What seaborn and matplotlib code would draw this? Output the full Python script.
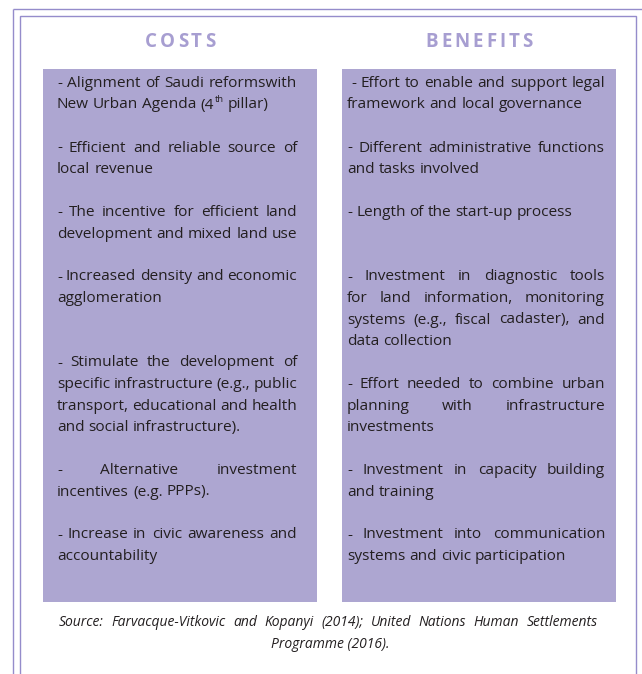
import matplotlib
matplotlib.use("Agg")
import matplotlib.pyplot as plt
import seaborn as sns
import pandas as pd

sns.set_theme(style="white")
plt.rcParams["font.family"] = ["Open Sans", "DejaVu Sans"]

# ---------------- data ----------------
column_titles = ["COSTS", "BENEFITS"]

costs = [
    ["- Alignment of Saudi reformswith", "New Urban Agenda (4^th pillar)"],
    ["- Efficient and reliable source of", "local revenue"],
    ["- The incentive for efficient land", "development and mixed land use"],
    ["- Increased density and economic", "agglomeration"],
    ["- Stimulate the development of", "specific infrastructure (e.g., public",
     "transport, educational and health", "and social infrastructure)."],
    ["- Alternative investment", "incentives (e.g. PPPs)."],
    ["- Increase in civic awareness and", "accountability"],
]

benefits = [
    [" - Effort to enable and support legal", "framework and local governance"],
    ["- Different administrative functions", "and tasks involved"],
    ["- Length of the start-up process"],
    ["- Investment in diagnostic tools", "for land information, monitoring",
     "systems (e.g., fiscal cadaster), and", "data collection"],
    ["- Effort needed to combine urban", "planning with infrastructure", "investments"],
    ["- Investment in capacity building", "and training"],
    ["- Investment into communication", "systems and civic participation"],
]

source_lines = [
    "Source: Farvacque-Vitkovic and Kopanyi (2014); United Nations Human Settlements",
    "Programme (2016).",
]

# ---------------- layout ----------------
costs_rows = [0, 3, 6, 9, 13, 18, 21]
benefits_rows = [0, 3, 6, 9, 14, 18, 21]

W, H, DPI = 642, 674, 100
BOX_L, BOX_R, BOX_T, BOX_B, GAP = 43, 616, 69, 602, 25
BOX_COLOR = "#ADA6D1"
TITLE_COLOR = "#A79ED1"
FRAME_COLOR = "#958CCB"
TEXT_COLOR = "#231F20"
BODY_SIZE = 11.1
TITLE_SIZE = 13.5
SRC_SIZE = 10.0
BASE0, PITCH = 87.0, 21.5

fig = plt.figure(figsize=(W / DPI, H / DPI), dpi=DPI)
fig.patch.set_facecolor("white")

# boxes drawn as seaborn bars
box_w = (BOX_R - BOX_L - GAP) / 2
unit = box_w + GAP
wfrac = box_w / unit
axb = fig.add_axes([BOX_L / W, 1 - BOX_B / H, (BOX_R - BOX_L) / W, (BOX_B - BOX_T) / H])
df = pd.DataFrame({"column": column_titles, "extent": [1.0, 1.0]})
sns.barplot(data=df, x="column", y="extent", color=BOX_COLOR, saturation=1,
            width=wfrac, errorbar=None, edgecolor="none", linewidth=0, ax=axb)
axb.set_xlim(-wfrac / 2, 1 + wfrac / 2)
axb.set_ylim(0, 1)
axb.axis("off")

# overlay in pixel coordinates
ax = fig.add_axes([0, 0, 1, 1])
ax.set_xlim(0, W)
ax.set_ylim(H, 0)
ax.axis("off")
ax.patch.set_alpha(0)

lw = 1.4 * 72 / DPI
# outer frame
ax.plot([13, 13], [H, 9], color=FRAME_COLOR, lw=lw, solid_capstyle="butt")
ax.plot([13, W], [9, 9], color=FRAME_COLOR, lw=lw, solid_capstyle="butt")
# inner frame
ax.plot([20, 20, 636, 636], [H, 16, 16, H], color=FRAME_COLOR, lw=lw,
        solid_joinstyle="miter", solid_capstyle="butt")

renderer = fig.canvas.get_renderer()


def tw(s, **kw):
    t = ax.text(0, 0, s, **kw)
    w = t.get_window_extent(renderer).width
    t.remove()
    return w


def word_parts(word):
    if "^" in word:
        base, sup = word.split("^")
        return base, sup
    return word, None


def word_width(word, kw):
    base, sup = word_parts(word)
    w = tw(base, **kw)
    if sup:
        skw = dict(kw)
        skw["fontsize"] = kw["fontsize"] * 0.6
        w += tw(sup, **skw) + 0.5
    return w


def draw_word(x, y, word, kw):
    base, sup = word_parts(word)
    ax.text(x, y, base, ha="left", va="baseline", **kw)
    if sup:
        bw = tw(base, **kw)
        skw = dict(kw)
        skw["fontsize"] = kw["fontsize"] * 0.6
        ax.text(x + bw + 0.5, y - 6, sup, ha="left", va="baseline", **skw)


def draw_line(x0, x1, y, line, justify, kw):
    space = tw("x x", **kw) - tw("xx", **kw)
    lead = 0
    if line.startswith(" "):
        lead = space
        line = line.lstrip()
    words = [w for w in line.split(" ") if w]
    widths = [word_width(w, kw) for w in words]
    if justify and len(words) > 1:
        gap = (x1 - x0 - lead - sum(widths)) / (len(words) - 1)
        gap = max(gap, space * 0.7)
    else:
        gap = space
    x = x0 + lead
    for w, wd in zip(words, widths):
        draw_word(x, y, w, kw)
        x += wd + gap


body_kw = dict(fontsize=BODY_SIZE, color=TEXT_COLOR)

for paras, rows, (x0, x1) in [(costs, costs_rows, (57, 297)),
                              (benefits, benefits_rows, (347, 605))]:
    for para, r in zip(paras, rows):
        for i, line in enumerate(para):
            y = BASE0 + (r + i) * PITCH
            draw_line(x0, x1, y, line, i < len(para) - 1, body_kw)

# titles with letter tracking
title_kw = dict(fontsize=TITLE_SIZE, color=TITLE_COLOR, fontweight="bold")
TRACK = 3.0
for title, cx in zip(column_titles, [180, 479]):
    ws = [tw(c, **title_kw) for c in title]
    total = sum(ws) + TRACK * (len(title) - 1)
    x = cx - total / 2
    for c, wd in zip(title, ws):
        ax.text(x, 47, c, ha="left", va="baseline", **title_kw)
        x += wd + TRACK

# source note
src_kw = dict(fontsize=SRC_SIZE, color=TEXT_COLOR, fontstyle="italic")
draw_line(59, 598, 626, source_lines[0], True, src_kw)
ax.text(330, 648, source_lines[1], ha="center", va="baseline", **src_kw)

fig.savefig("out.png", dpi=DPI, facecolor="white")
